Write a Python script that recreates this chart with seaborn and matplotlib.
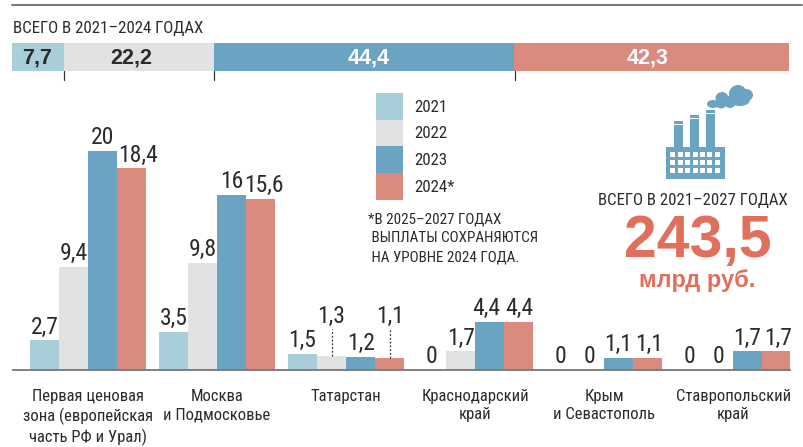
import numpy as np
import pandas as pd
import matplotlib
matplotlib.use('Agg')
import matplotlib.pyplot as plt
import seaborn as sns
from matplotlib import font_manager
from matplotlib.patches import Rectangle, Ellipse

regions = ['Первая ценовая\nзона (европейская\nчасть РФ и Урал)', 'Москва\nи Подмосковье', 'Татарстан',
           'Краснодарский\nкрай', 'Крым\nи Севастополь', 'Ставропольский\nкрай']
years = ['2021', '2022', '2023', '2024*']
v2021 = [2.7, 3.5, 1.5, 0, 0, 0]
v2022 = [9.4, 9.8, 1.3, 1.7, 0, 0]
v2023 = [20, 16, 1.2, 4.4, 1.1, 1.7]
v2024 = [18.4, 15.6, 1.1, 4.4, 1.1, 1.7]
totals = [7.7, 22.2, 44.4, 42.3]
colors = ['#A8CFD9', '#E1E2E4', '#6BA4C2', '#DB8A7E']
big_red = '#E0705C'
ink = '#2b2b2b'

sns.set_theme(style='white')
names = {f.name for f in font_manager.fontManager.ttflist}
# narrow face if the machine has one, plain sans at smaller size otherwise
if 'Roboto Condensed' in names:
    narrow, fs = 'Roboto Condensed', 1.0
else:
    narrow, fs = 'Liberation Sans', 0.85
plt.rcParams['font.family'] = [narrow, 'DejaVu Sans']

W, H = 804, 447
fig = plt.figure(figsize=(W / 100, H / 100), dpi=100, facecolor='white')


def px_axes(x0, y0, x1, y1):
    # axes box given in picture pixels, y from the top
    return fig.add_axes([x0 / W, 1 - y1 / H, (x1 - x0) / W, (y1 - y0) / H])


def fmt(v):
    return f'{v:g}'.replace('.', ',')


# main bars
df = pd.DataFrame({'region': regions, '2021': v2021, '2022': v2022, '2023': v2023, '2024*': v2024})
long = df.melt(id_vars='region', var_name='year', value_name='value')

ax = px_axes(13, 130, 790, 370)
sns.barplot(data=long, x='region', y='value', hue='year', hue_order=years, palette=colors,
            width=0.9, gap=0, saturation=1, legend=False, linewidth=0, ax=ax)
ax.set_xlim(-0.581, 5.44)
ax.set_ylim(0, 21.9)
ax.set_xlabel('')
ax.set_ylabel('')
ax.set_yticks([])
ax.set_xticks(range(len(regions)))
ax.set_xticklabels(regions, fontsize=12 * fs, color=ink, linespacing=1.25)
ax.tick_params(axis='x', length=0, pad=14)
sns.despine(ax=ax, left=True)
ax.spines['bottom'].set_color('#777777')
ax.spines['bottom'].set_linewidth(1.3)
ax.patch.set_alpha(0)

offsets = [-0.3375, -0.1125, 0.1125, 0.3375]
raised = {(2, 1): 3.7, (2, 3): 3.7}
# labels that sit off the middle of their bar, in pixels
nudge = {(0, 3): 6.5, (1, 3): 3.5, (3, 2): -3.5, (3, 3): 1, (4, 2): -1, (4, 3): 1, (5, 2): -1, (5, 3): 1}
for j, vals in enumerate([v2021, v2022, v2023, v2024]):
    for i, v in enumerate(vals):
        x = i + offsets[j]
        y = v + 0.15
        if (i, j) in raised:
            y = raised[(i, j)] + 0.1
            ax.plot([x, x], [v, raised[(i, j)]], color='#333333', lw=0.9, ls=(0, (1.5, 1.5)))
        ax.text(x + nudge.get((i, j), 0) / 129, y, fmt(v), ha='center', va='bottom', fontsize=17 * fs, color=ink)

# stacked strip on top
strip = px_axes(12, 43, 789, 71)
strip_max = 114.9
left = 0
for k, t in enumerate(totals):
    sns.barplot(x=[t], y=[0], orient='h', left=left, width=1, color=colors[k], saturation=1, linewidth=0, ax=strip)
    left += t
strip.set_xlim(0, strip_max)
strip.set_ylim(0.5, -0.5)
strip.axis('off')

# everything else in picture pixels
over = px_axes(0, 0, W, H)
over.set_xlim(0, W)
over.set_ylim(H, 0)
over.axis('off')
over.patch.set_alpha(0)

for k, x in enumerate([37, 131, 369, 648]):
    over.text(x, 58, fmt(totals[k]), ha='center', va='center', fontsize=15.5, fontweight='bold',
              color='white' if k >= 2 else ink, family='Liberation Sans')

over.plot([12, 802], [5, 5], color='#777777', lw=1.4)
for x in [64.5, 214.5, 515]:
    over.plot([x, x], [71, 80], color='#333333', lw=0.9)
over.text(13, 28, 'ВСЕГО В 2021–2024 ГОДАХ', fontsize=12.2 * fs, color=ink, va='center')

# legend
for k, (y0, y1) in enumerate([(93, 120), (120, 146), (146, 173), (173, 200)]):
    over.add_patch(Rectangle((376, y0), 27, y1 - y0, fc=colors[k], ec='none'))
    over.text(414, (y0 + y1) / 2 + 1, years[k], fontsize=12.2 * fs, color=ink, va='center')

note = ['*В 2025–2027 ГОДАХ', ' ВЫПЛАТЫ СОХРАНЯЮТСЯ', ' НА УРОВНЕ 2024 ГОДА.']
for k, line in enumerate(note):
    over.text(368, 219 + k * 19.5, line, fontsize=10.9 * fs, color=ink, va='center')

# factory icon
blue = colors[2]
over.add_patch(Rectangle((666, 147), 59, 32, fc=blue, ec='none'))
for x0, top in [(674, 125), (690, 119), (706, 114)]:
    over.add_patch(Rectangle((x0, top), 9, 147 - top, fc=blue, ec='none'))
    over.add_patch(Rectangle((x0, top - 4), 9, 3, fc=blue, ec='none'))
for r in range(3):
    for c in range(7):
        over.add_patch(Rectangle((670.5 + c * 7.4, 151.5 + r * 8), 5, 5, fc='white', ec='none'))
for cx, cy, w, h in [(713, 104, 12, 8), (722, 98, 13, 12), (730, 102, 12, 12), (738, 94, 18, 18),
                     (746, 95, 14, 12), (740, 100, 20, 12), (721, 105, 10, 7)]:
    over.add_patch(Ellipse((cx, cy), w, h, fc=blue, ec='none'))

over.text(693, 201, 'ВСЕГО В 2021–2027 ГОДАХ', fontsize=12.1 * fs, color=ink, ha='center', va='center')
over.text(698, 241, '243,5', fontsize=42.5, fontweight='bold', color=big_red, ha='center', va='center',
          family='Liberation Sans')
over.text(697, 281, 'млрд руб.', fontsize=17, fontweight='bold', color=big_red, ha='center', va='center',
          family='Liberation Sans')

fig.savefig('out.png', dpi=100)
